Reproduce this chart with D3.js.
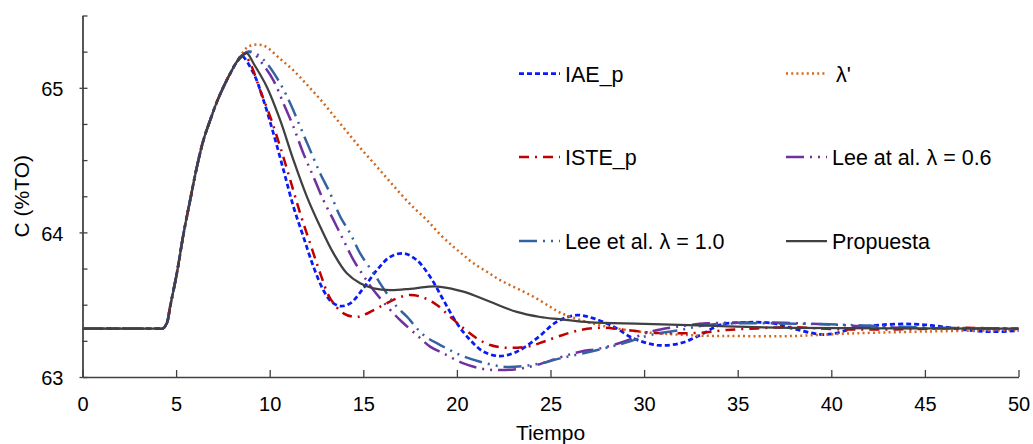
<!DOCTYPE html>
<html>
<head>
<meta charset="utf-8">
<script src="https://cdn.jsdelivr.net/npm/d3@7"></script>
<style>
  body { margin: 0; background: #fff; }
  svg text { font-family: "Liberation Sans", Arial, sans-serif; fill: #000; }
</style>
</head>
<body>
<script>
// values, [tiempo, C]
const rise = [[0, 63.335], [4.0, 63.335], [4.3, 63.336], [4.5, 63.37], [4.68, 63.486], [5.04, 63.717], [5.4, 63.993],
  [5.75, 64.223], [6.11, 64.453], [6.46, 64.638], [6.82, 64.776], [7.18, 64.903], [7.53, 65.006],
  [7.89, 65.099], [8.25, 65.18]]

const iaeP = [[8.5, 65.22], [9.14, 65.099], [9.67, 64.914], [10.2, 64.684], [10.74, 64.43], [11.27, 64.177],
  [11.8, 63.97], [12.34, 63.762], [12.87, 63.6], [13.3, 63.52], [13.77, 63.49], [14.3, 63.509], [15.0, 63.613],
  [15.73, 63.74], [16.44, 63.831], [17.15, 63.855], [17.86, 63.808], [18.57, 63.693], [19.28, 63.532],
  [20.0, 63.371], [20.71, 63.256], [21.42, 63.175], [22.31, 63.145], [23.2, 63.175], [24.27, 63.267],
  [25.34, 63.382], [26.41, 63.428], [27.3, 63.405], [28.37, 63.348], [29.43, 63.267], [30.68, 63.221],
  [31.93, 63.233], [33.0, 63.29], [34.06, 63.36], [35.49, 63.378], [36.91, 63.371], [37.8, 63.34],
  [39.4, 63.295], [40.12, 63.3], [41.19, 63.336], [42.6, 63.36], [44.4, 63.366], [45.8, 63.35],
  [47.2, 63.325], [48.6, 63.313], [50, 63.32]]

const lambdaP = [[8.78, 65.278], [9.05, 65.294], [9.4, 65.299], [9.76, 65.287], [10.56, 65.2], [11.27, 65.12],
  [12.0, 65.02], [12.7, 64.92], [13.4, 64.81], [14.1, 64.7], [14.8, 64.59], [15.55, 64.48],
  [16.26, 64.375], [16.97, 64.27], [17.7, 64.17], [18.4, 64.085], [19.11, 63.985], [19.82, 63.9], [20.35, 63.843],
  [20.89, 63.786], [21.6, 63.728], [22.31, 63.67], [23.2, 63.613], [24.09, 63.555], [24.98, 63.486],
  [25.52, 63.445], [26.59, 63.394], [28.0, 63.348], [29.8, 63.313], [31.57, 63.295], [33.35, 63.285],
  [35.1, 63.283], [37.8, 63.283], [40.8, 63.3], [44.4, 63.313], [50, 63.325]]

const isteP = [[8.6, 65.23], [8.96, 65.168], [9.49, 64.983], [10.03, 64.799], [10.56, 64.592], [11.1, 64.361],
  [11.63, 64.131], [12.16, 63.924], [12.7, 63.717], [13.23, 63.544], [13.94, 63.44], [14.6, 63.415],
  [15.0, 63.428], [15.9, 63.486], [16.79, 63.544], [17.5, 63.567], [18.2, 63.55], [18.93, 63.498],
  [19.64, 63.417], [20.35, 63.337], [21.07, 63.267], [21.78, 63.221], [22.49, 63.203], [23.2, 63.203],
  [23.92, 63.214], [24.63, 63.244], [25.52, 63.285], [26.59, 63.325], [27.66, 63.341], [28.72, 63.33],
  [30.15, 63.309], [31.57, 63.302], [33.0, 63.306], [34.42, 63.325], [36.03, 63.336], [37.8, 63.345],
  [40.3, 63.33], [44, 63.33], [47, 63.34], [50, 63.332]]

const lee06 = [[8.78, 65.248], [9.14, 65.237], [9.67, 65.156], [10.2, 65.052], [10.74, 64.891], [11.27, 64.73],
  [11.8, 64.546], [12.34, 64.384], [12.87, 64.223], [13.41, 64.085], [13.94, 63.947], [14.48, 63.808],
  [15.01, 63.7], [15.55, 63.6], [16.61, 63.44], [17.06, 63.382], [17.86, 63.29], [18.57, 63.21],
  [19.28, 63.163], [20.35, 63.094], [21.42, 63.055], [22.31, 63.048], [23.2, 63.055], [24.27, 63.083],
  [25.52, 63.136], [26.59, 63.175], [27.66, 63.198], [28.9, 63.244], [30.33, 63.313], [31.75, 63.348],
  [33.35, 63.371], [34.78, 63.375], [36.03, 63.378], [38.34, 63.371], [40.47, 63.36], [41.9, 63.348],
  [45, 63.338], [50, 63.335]]

const lee10 = [[8.87, 65.25], [9.4, 65.225], [9.85, 65.168], [10.56, 65.03], [11.1, 64.891], [11.63, 64.73],
  [12.16, 64.569], [12.7, 64.408], [13.23, 64.27], [13.77, 64.108], [14.3, 63.993], [14.83, 63.855],
  [15.55, 63.717], [16.26, 63.578], [16.79, 63.486], [17.33, 63.417], [18.22, 63.29], [19.11, 63.221],
  [20.18, 63.152], [21.24, 63.106], [22.49, 63.071], [23.56, 63.076], [24.63, 63.099], [25.52, 63.129],
  [27.12, 63.175], [28.9, 63.233], [30.33, 63.29], [31.93, 63.325], [33.35, 63.36], [35.1, 63.371],
  [36.9, 63.371], [39.9, 63.364], [42.6, 63.352], [46, 63.34], [50, 63.336]]

const propuesta = [[8.6, 65.228], [8.78, 65.24], [9.14, 65.168], [9.85, 65.006], [10.56, 64.776], [11.27, 64.5],
  [11.99, 64.246], [12.7, 64.039], [13.41, 63.855], [14.12, 63.717], [14.83, 63.648], [15.55, 63.613],
  [16.44, 63.6], [17.5, 63.61], [18.5, 63.625], [19.11, 63.624], [20.35, 63.59], [21.78, 63.52],
  [23.2, 63.45], [24.45, 63.415], [25.5, 63.4], [27.12, 63.378], [30, 63.368], [33.35, 63.355],
  [37.8, 63.34], [50, 63.335]]

const xTicks = [0, 5, 10, 15, 20, 25, 30, 35, 40, 45, 50]
const yTicks = [63, 64, 65]
const yMinor = [63, 63.25, 63.5, 63.75, 64, 64.25, 64.5, 64.75, 65, 65.25, 65.5]

const series = [
  {name: "IAE_p", data: rise.concat(iaeP), color: "#0a1cf5", dash: "5,3", w: 2.75},
  {name: "λ'", data: rise.concat(lambdaP), color: "#d2691e", dash: "2,3.2", w: 2.5},
  {name: "ISTE_p", data: rise.concat(isteP), color: "#c00000", dash: "10,6,2,6", w: 2.5},
  {name: "Lee at al. λ = 0.6", data: rise.concat(lee06), color: "#7030a0", dash: "18,6,2,6,2,6", w: 2.5},
  {name: "Lee et al. λ = 1.0", data: rise.concat(lee10), color: "#3463a3", dash: "18,6,2,6,2,6", w: 2.5},
  {name: "Propuesta", data: rise.concat(propuesta), color: "#404040", dash: null, w: 2.25}
]

const width = 1033, height = 444

const svg = d3.select("body").append("svg")
    .attr("width", width)
    .attr("height", height)

const x = d3.scaleLinear().domain([0, 50]).range([82.5, 1018.5])
const y = d3.scaleLinear().domain([63, 65.5]).range([377, 15.5])

// axes
const xAxis = svg.append("g")
    .attr("transform", `translate(0, ${y(63)})`)
    .call(d3.axisBottom(x).tickValues(xTicks).tickSizeInner(-7).tickSizeOuter(0).tickPadding(20))
xAxis.selectAll("text").style("font-size", "20px")

svg.append("g")
    .attr("transform", `translate(${x(0)}, 0)`)
    .call(d3.axisLeft(y).tickValues(yMinor).tickSizeInner(-5).tickSizeOuter(0).tickFormat(""))

const yAxis = svg.append("g")
    .attr("transform", `translate(${x(0)}, 0)`)
    .call(d3.axisLeft(y).tickValues(yTicks).tickSizeInner(3).tickSizeOuter(0).tickPadding(16).tickFormat(d3.format("d")))
yAxis.selectAll("text").style("font-size", "20px").attr("dy", "0.38em")

svg.selectAll(".domain, .tick line").attr("stroke", "#404040").attr("stroke-width", 1.3)

svg.append("text")
    .attr("x", (x(0) + x(50)) / 2)
    .attr("y", 440)
    .style("text-anchor", "middle")
    .style("font-size", "21px")
    .text("Tiempo")

svg.append("text")
    .attr("transform", `translate(29, ${(y(63) + y(65.5)) / 2}) rotate(-90)`)
    .style("text-anchor", "middle")
    .style("font-size", "21px")
    .text("C (%TO)")

// curves
const line = d3.line()
    .x(d => x(d[0]))
    .y(d => y(d[1]))
    .curve(d3.curveCatmullRom.alpha(0.5))

svg.selectAll("path.serie")
    .data(series)
    .enter()
    .append("path")
    .attr("class", "serie")
    .attr("fill", "none")
    .attr("stroke", d => d.color)
    .attr("stroke-width", d => d.w)
    .attr("stroke-dasharray", d => d.dash)
    .attr("d", d => line(d.data))

// legend, two columns x three rows
const legend = svg.append("g")
const rows = [73.5, 157, 241]
const cols = [519, 786]

series.forEach((s, i) => {
    let lx = cols[i % 2]
    let ly = rows[Math.floor(i / 2)]
    legend.append("line")
        .attr("x1", lx).attr("x2", lx + 41)
        .attr("y1", ly).attr("y2", ly)
        .attr("stroke", s.color)
        .attr("stroke-width", s.w)
        .attr("stroke-dasharray", s.dash)
    legend.append("text")
        .attr("x", s.name === "λ'" ? lx + 50 : lx + 46)
        .attr("y", ly + 8)
        .style("font-size", "21.5px")
        .text(s.name)
})
</script>
</body>
</html>
